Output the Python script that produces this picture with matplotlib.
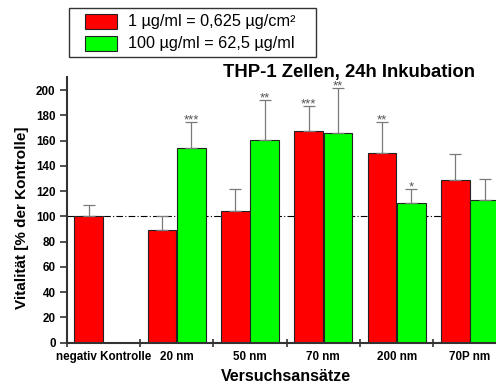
import matplotlib
matplotlib.use("Agg")
import matplotlib.pyplot as plt
import numpy as np
from matplotlib.patches import Rectangle

plt.rcParams["font.family"] = ["Liberation Sans", "DejaVu Sans"]

groups = ["negativ Kontrolle", "20 nm", "50 nm", "70 nm", "200 nm", "70P nm"]
low_dose = [100, 89, 104.5, 167.5, 150.4, 128.5]          # 1 µg/ml
low_err = [9, 11, 17.5, 20, 24, 20.5]
high_dose = [np.nan, 154, 160.5, 165.7, 110.8, 112.7]     # 100 µg/ml
high_err = [np.nan, 21, 31.5, 36, 11, 16.5]
low_stars = ["", "", "", "***", "**", ""]
high_stars = ["", "***", "**", "**", "*", ""]
series_labels = ["1 µg/ml = 0,625 µg/cm²", "100 µg/ml = 62,5 µg/ml"]

RED, GREEN = "#ff0000", "#00ff00"
W, H = 496, 383

fig = plt.figure(figsize=(W / 100, H / 100), dpi=100)
ax = fig.add_axes([0.1345, 0.1052, 0.887, 0.6928])

x = np.arange(len(groups))
w = 0.39
xr, xg = x + 0.3, x + 0.7
ax.bar(xr, low_dose, w, color=RED, edgecolor="#222222", linewidth=0.8, zorder=2)
ax.bar(xg, high_dose, w, color=GREEN, edgecolor="#222222", linewidth=0.8, zorder=2)
ekw = dict(fmt="none", ecolor="#7a7a7a", elinewidth=0.9, capsize=4, capthick=0.9, zorder=3)
ax.errorbar(xr, low_dose, yerr=[np.zeros(len(x)), low_err], **ekw)
ax.errorbar(xg, high_dose, yerr=[np.zeros(len(x)), high_err], **ekw)

for xs, vals, errs, stars in [(xr, low_dose, low_err, low_stars), (xg, high_dose, high_err, high_stars)]:
    for xi, v, e, s in zip(xs, vals, errs, stars):
        if s:
            ax.text(xi, v + e - 3.5, s, ha="center", va="bottom", fontsize=9.5,
                    color="#555555")

ax.axhline(100, color="black", lw=0.8, ls=(0, (6, 2, 1, 2)), zorder=1)

ax.set_xlim(0, 6)
ax.set_ylim(0, 210)
ax.set_yticks(np.arange(0, 201, 20))
ax.set_xticks(np.arange(0, 6))
ax.set_xticklabels([])
ax.set_xticks(x + 0.5, minor=True)
ax.set_xticklabels(groups, minor=True)
ax.tick_params(axis="x", which="major", direction="inout", length=6, width=1.2, color="#333333")
ax.tick_params(axis="x", which="minor", length=0, pad=6, labelsize=8.4)
ax.tick_params(axis="y", direction="out", length=5, width=1.2, color="#333333", labelsize=8.4, pad=3)
for lab in ax.get_xticklabels(minor=True) + ax.get_yticklabels():
    lab.set_fontweight("bold")
for s in ["top", "right"]:
    ax.spines[s].set_visible(False)
for s in ["left", "bottom"]:
    ax.spines[s].set_linewidth(1.5)
    ax.spines[s].set_color("#333333")

fig.text(0.045, 0.431, "Vitalität [% der Kontrolle]", rotation=90,
         ha="center", va="center", fontsize=11, fontweight="bold")
fig.text(0.577, 0.006, "Versuchsansätze", ha="center", va="baseline",
         fontsize=11.5, fontweight="bold")
fig.text(0.957, 0.799, "THP-1 Zellen, 24h Inkubation", ha="right", va="baseline",
         fontsize=13.3, fontweight="bold")

# legend box, drawn in pixel units of the figure
def px(x0, y0):
    return x0 / W, 1 - y0 / H

fig.patches.append(Rectangle(px(69, 57), 247 / W, 49 / H, transform=fig.transFigure,
                             facecolor="white", edgecolor="#333333", lw=1.0))
for (top, col, lab) in zip([14, 36], [RED, GREEN], series_labels):
    fig.patches.append(Rectangle(px(85, top + 15), 32 / W, 15 / H, transform=fig.transFigure,
                                 facecolor=col, edgecolor="#222222", lw=0.8))
    fig.text(*px(128, top + 7.5), lab, ha="left", va="center", fontsize=11.7)

fig.savefig("out.png", dpi=100)
